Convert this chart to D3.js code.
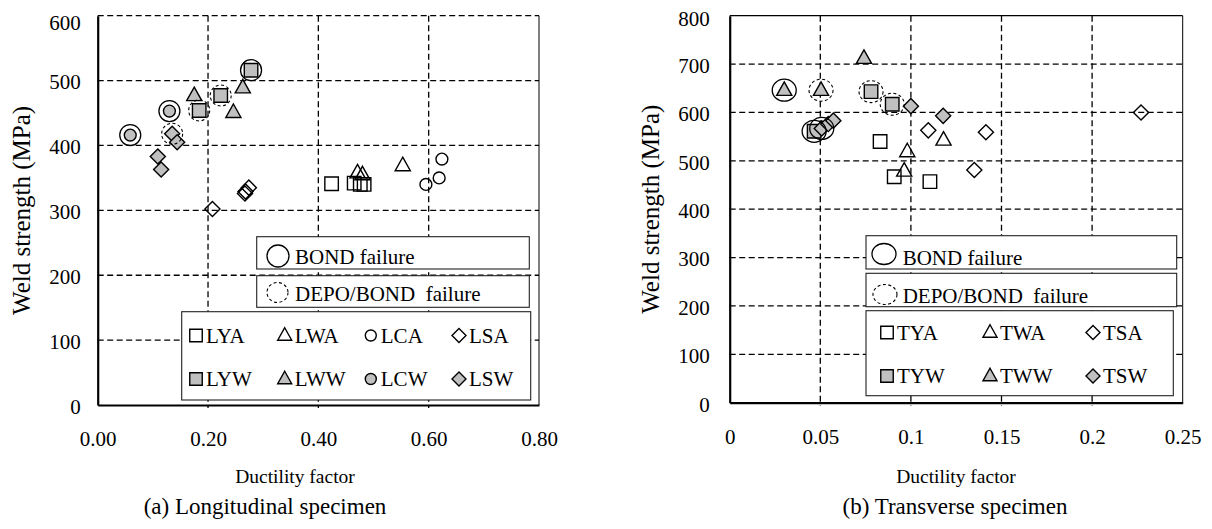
<!DOCTYPE html>
<html><head><meta charset="utf-8">
<script src="https://cdn.jsdelivr.net/npm/d3@7"></script>
<style>
body{margin:0;background:#fff}
svg text{font-family:"Liberation Serif","Times New Roman",serif;fill:#000}
</style>
</head><body>
<svg id="c" width="1212" height="529"></svg>
<script>
// ---------- DATA ----------
const lxTicks = [0, 0.2, 0.4, 0.6, 0.8];
const lxTickLabels = ["0.00", "0.20", "0.40", "0.60", "0.80"];
const lyTicks = [0, 100, 200, 300, 400, 500, 600];
const rxTicks = [0, 0.05, 0.1, 0.15, 0.2, 0.25];
const rxTickLabels = ["0", "0.05", "0.1", "0.15", "0.2", "0.25"];
const ryTicks = [0, 100, 200, 300, 400, 500, 600, 700, 800];

// [ductility factor, weld strength (MPa), failure ring: "B" = BOND, "D" = DEPO/BOND, "" = none]
const LYA = [[0.424, 341, ""], [0.465, 342, ""], [0.476, 340, ""], [0.483, 340, ""]];
const LWA = [[0.471, 358, ""], [0.480, 355, ""], [0.553, 369, ""]];
const LCA = [[0.595, 340, ""], [0.619, 350, ""], [0.624, 379, ""]];
const LSA = [[0.208, 302, ""], [0.274, 335, ""], [0.268, 329, ""], [0.267, 326, ""]];
const LYW = [[0.184, 454, "D"], [0.223, 477, "D"], [0.278, 516, "B"]];
const LWW = [[0.175, 477, ""], [0.246, 451, ""], [0.263, 489, ""]];
const LCW = [[0.059, 416, "B"], [0.130, 453, "B"]];
const LSW = [[0.135, 418, "D"], [0.144, 405, ""], [0.109, 383, ""], [0.115, 363, ""]];

const TYA = [[0.083, 540, ""], [0.0908, 467, ""], [0.1105, 457, ""]];
const TWA = [[0.098, 519, ""], [0.0963, 479, ""], [0.118, 543, ""]];
const TSA = [[0.1096, 563, ""], [0.1414, 559, ""], [0.135, 481, ""], [0.227, 600, ""]];
const TYW = [[0.078, 643, "D"], [0.0897, 617, "D"], [0.0466, 561, "B"]];
const TWW = [[0.0301, 646, "B"], [0.0504, 646, "D"], [0.0741, 712, ""]];
const TSW = [[0.100, 613, ""], [0.1178, 593, ""], [0.0508, 567, "B"], [0.0544, 576, ""], [0.0572, 583, ""]];

const leftSeries = [
  {name: "LYA", shape: "square", filled: false, data: LYA},
  {name: "LWA", shape: "triangle", filled: false, data: LWA},
  {name: "LCA", shape: "circle", filled: false, data: LCA},
  {name: "LSA", shape: "diamond", filled: false, data: LSA},
  {name: "LYW", shape: "square", filled: true, data: LYW},
  {name: "LWW", shape: "triangle", filled: true, data: LWW},
  {name: "LCW", shape: "circle", filled: true, data: LCW},
  {name: "LSW", shape: "diamond", filled: true, data: LSW}
];
const rightSeries = [
  {name: "TYA", shape: "square", filled: false, data: TYA},
  {name: "TWA", shape: "triangle", filled: false, data: TWA},
  {name: "TSA", shape: "diamond", filled: false, data: TSA},
  {name: "TYW", shape: "square", filled: true, data: TYW},
  {name: "TWW", shape: "triangle", filled: true, data: TWW},
  {name: "TSW", shape: "diamond", filled: true, data: TSW}
];

const yTitle = "Weld strength (MPa)";
const xTitle = "Ductility factor";
const captions = ["(a) Longitudinal specimen", "(b) Transverse specimen"];
const bondLabel = "BOND failure";
const depoLabel = "DEPO/BOND  failure";

// ---------- DRAW ----------
const svg = d3.select("#c");
const GRAY = "#c0c0c0";
const FONT = "'Liberation Serif','Times New Roman',serif";

function shapePath(shape, s) {
  if (shape === "square") { const h = s / 2; return `M${-h},${-h}H${h}V${h}H${-h}Z`; }
  if (shape === "triangle") { const w = s * 0.56, t = s * 0.62, b = s * 0.38; return `M0,${-t}L${w},${b}L${-w},${b}Z`; }
  if (shape === "diamond") { const h = s * 0.56; return `M0,${-h}L${h},0L0,${h}L${-h},0Z`; }
  const r = s * 0.44; return `M${r},0A${r},${r} 0 1 1 ${-r},0A${r},${r} 0 1 1 ${r},0Z`;
}

function drawMarker(g, shape, filled, cx, cy, s) {
  g.append("path").attr("d", shapePath(shape, s))
    .attr("transform", `translate(${cx},${cy})`)
    .attr("fill", filled ? GRAY : "none")
    .attr("stroke", "#000").attr("stroke-width", 1.4)
    .attr("stroke-linejoin", "miter");
}

function panel(cfg) {
  const g = svg.append("g");
  const x = d3.scaleLinear().domain(cfg.xDomain).range([cfg.x0, cfg.x1]);
  const y = d3.scaleLinear().domain(cfg.yDomain).range([cfg.y0, cfg.y1]);

  // grid
  const grid = g.append("g").attr("stroke", "#000").attr("stroke-width", 1.3)
    .attr("stroke-dasharray", "6,3.5");
  grid.selectAll("line.h").data(cfg.yTicks.filter(v => v > cfg.yDomain[0] && (cfg.topDashed ? true : v < cfg.yDomain[1])))
    .join("line").attr("x1", cfg.x0).attr("x2", cfg.x1)
    .attr("y1", d => y(d)).attr("y2", d => y(d));
  grid.selectAll("line.v").data(cfg.xTicks.filter(v => v > cfg.xDomain[0] && v < cfg.xDomain[1]))
    .join("line").attr("x1", d => x(d)).attr("x2", d => x(d))
    .attr("y1", cfg.y1).attr("y2", cfg.y0 + 3);
  if (!cfg.topDashed) {
    g.append("line").attr("x1", cfg.x0).attr("x2", cfg.x1).attr("y1", cfg.y1).attr("y2", cfg.y1)
      .attr("stroke", "#000").attr("stroke-width", 1.2);
  }
  g.append("line").attr("x1", cfg.x1).attr("x2", cfg.x1).attr("y1", cfg.y1).attr("y2", cfg.y0)
    .attr("stroke", "#000").attr("stroke-width", 1);

  // axes
  const ax = g.append("g").attr("transform", `translate(0,${cfg.y0})`)
    .call(d3.axisBottom(x).tickValues(cfg.xTicks).tickFormat((d, i) => cfg.xTickLabels[i]).tickSize(0).tickPadding(0));
  ax.attr("font-family", FONT);
  ax.select(".domain").attr("stroke", "#000").attr("stroke-width", 2.2);
  ax.selectAll(".tick text").attr("font-size", 21).attr("dy", null).attr("y", 41).style("font-family", FONT);

  const ay = g.append("g").attr("transform", `translate(${cfg.x0},0)`)
    .call(d3.axisLeft(y).tickValues(cfg.yTicks).tickFormat(d3.format("d")).tickSize(0).tickPadding(0));
  ay.attr("font-family", FONT);
  ay.select(".domain").attr("stroke", "#000").attr("stroke-width", 2.2);
  ay.selectAll(".tick text").attr("font-size", 21).attr("x", -cfg.yLabelGap)
    .attr("dy", d => d === cfg.yDomain[1] ? cfg.topLabelDy : "0.4em").style("font-family", FONT);

  // legend
  const L = cfg.legend;
  const lg = g.append("g").style("font-family", FONT);
  [L.bond, L.depo, L.box].forEach(b => {
    lg.append("rect").attr("x", b[0]).attr("y", b[1]).attr("width", b[2] - b[0]).attr("height", b[3] - b[1])
      .attr("fill", "#fff").attr("stroke", "#222").attr("stroke-width", 1.1);
  });
  lg.append("ellipse").attr("cx", L.bondC[0]).attr("cy", L.bondC[1]).attr("rx", L.bondC[2]).attr("ry", L.bondC[3])
    .attr("fill", "none").attr("stroke", "#000").attr("stroke-width", 1.3);
  lg.append("text").attr("x", L.textX).attr("y", L.bondBase).attr("font-size", 21).style("font-family", FONT).text(bondLabel);
  lg.append("ellipse").attr("cx", L.depoC[0]).attr("cy", L.depoC[1]).attr("rx", L.depoC[2]).attr("ry", L.depoC[3])
    .attr("fill", "none").attr("stroke", "#000").attr("stroke-width", 1.1).attr("stroke-dasharray", "3,2.5");
  lg.append("text").attr("x", L.textX).attr("y", L.depoBase).attr("font-size", 21)
    .style("white-space", "pre").style("font-family", FONT).text(depoLabel);
  cfg.series.forEach((s, i) => {
    const col = i % L.cols.length, row = Math.floor(i / L.cols.length);
    const cx = L.cols[col], cy = L.rows[row];
    drawMarker(lg, s.shape, s.filled, cx, cy, 12.5);
    lg.append("text").attr("x", cx + L.textOff).attr("y", cy + 7).attr("font-size", 21).style("font-family", FONT).text(s.name);
  });

  // marks
  const mg = g.append("g");
  cfg.series.forEach(s => {
    s.data.forEach(d => drawMarker(mg, s.shape, s.filled, x(d[0]), y(d[1]), 13.5));
  });
  const rg = g.append("g").attr("fill", "none").attr("stroke", "#000");
  cfg.series.forEach(s => {
    s.data.filter(d => d[2]).forEach(d => {
      rg.append("ellipse").attr("cx", x(d[0])).attr("cy", y(d[1]))
        .attr("rx", cfg.ringR[0]).attr("ry", cfg.ringR[1])
        .attr("stroke-width", d[2] === "B" ? 1.3 : 1.1)
        .attr("stroke-dasharray", d[2] === "B" ? null : "3,2.5");
    });
  });

  // titles
  g.append("text").attr("transform", `translate(${cfg.yTitleX},${(cfg.y0 + cfg.y1) / 2}) rotate(-90)`)
    .attr("text-anchor", "middle").attr("dy", "0.35em").attr("font-size", 25).style("font-family", FONT).text(yTitle);
  g.append("text").attr("x", cfg.xTitleX).attr("y", 483)
    .attr("text-anchor", "middle").attr("font-size", 19.5).style("font-family", FONT).text(xTitle);
  g.append("text").attr("x", cfg.capX).attr("y", 514)
    .attr("text-anchor", "middle").attr("font-size", 23).style("font-family", FONT).text(cfg.caption);
}

panel({
  xDomain: [0, 0.8], yDomain: [0, 600], x0: 97.7, x1: 539, y0: 405, y1: 15.7,
  xTicks: lxTicks, xTickLabels: lxTickLabels, yTicks: lyTicks, yLabelGap: 17, topLabelDy: "0.65em",
  topDashed: true, series: leftSeries, ringR: [10.5, 10.5], yTitleX: 21, xTitleX: 295, capX: 265, caption: captions[0],
  legend: {
    bond: [256.7, 236.7, 529.3, 269], depo: [256.7, 275.7, 529.3, 307.3], box: [181.7, 311.7, 530.7, 400],
    bondC: [278, 256, 11, 11], depoC: [277.5, 292.5, 10.5, 10], textX: 295, bondBase: 264, depoBase: 300.5,
    cols: [196, 284.7, 370.8, 459], rows: [335.5, 379], textOff: 10
  }
});
panel({
  xDomain: [0, 0.25], yDomain: [0, 800], x0: 729.7, x1: 1182.7, y0: 402.7, y1: 15.7,
  xTicks: rxTicks, xTickLabels: rxTickLabels, yTicks: ryTicks, yLabelGap: 20, topLabelDy: "0.45em",
  topDashed: false, series: rightSeries, ringR: [12, 11], yTitleX: 650, xTitleX: 956, capX: 955, caption: captions[1],
  legend: {
    bond: [866, 235.7, 1176.7, 269], depo: [866, 273.3, 1176.7, 306.7], box: [866, 310.7, 1173.3, 395.7],
    bondC: [884, 254, 12, 10.5], depoC: [885, 294.5, 12, 10], textX: 902.7, bondBase: 265, depoBase: 303,
    cols: [887, 990, 1093], rows: [332.5, 376], textOff: 10
  }
});
</script>
</body></html>
